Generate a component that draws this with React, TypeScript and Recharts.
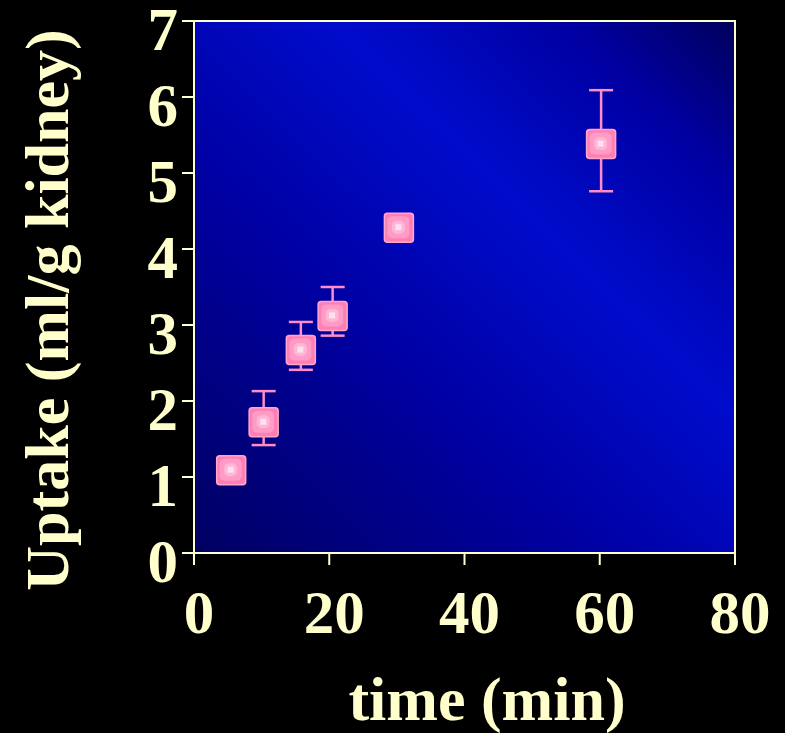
import React from 'react';
import { ScatterChart, Scatter, XAxis, YAxis, ErrorBar, ReferenceArea, Label } from 'recharts';

// uptake vs time
const times = [5.5, 10.3, 15.8, 20.5, 30.3, 60.2];
const uptake = [1.09, 1.72, 2.67, 3.12, 4.28, 5.38];
const errLow = [0, 0.3, 0.26, 0.26, 0, 0.62];
const errHigh = [0, 0.41, 0.37, 0.38, 0, 0.71];
const xTicks = [0, 20, 40, 60, 80];
const yTicks = [0, 1, 2, 3, 4, 5, 6, 7];

const data = times.map((t, i) => ({ time: t, uptake: uptake[i], err: [errLow[i], errHigh[i]] }));

const CREAM = '#ffffcc';
const FONT = '"Liberation Serif", "Times New Roman", serif';

const XTick = (props: any) => {
    const { x, y, payload } = props;
    return (
        <text x={x + 5} y={y + 66} textAnchor="middle" fill={CREAM} fontSize={61} fontWeight="bold" fontFamily={FONT}>
            {payload.value}
        </text>
    );
};

const YTick = (props: any) => {
    const { x, y, payload } = props;
    return (
        <text x={x} y={y + 29} textAnchor="end" fill={CREAM} fontSize={61} fontWeight="bold" fontFamily={FONT}>
            {payload.value}
        </text>
    );
};

const PinkSquare = (props: any) => {
    const { cx, cy } = props;
    if (cx == null || cy == null) return null;
    const s = 29;
    return (
        <g>
            <rect x={cx - s / 2} y={cy - s / 2} width={s} height={s} rx={3} fill="#ff7fb4" stroke="#ffa6cd" strokeWidth={1.5} />
            <rect x={cx - s / 2 + 3} y={cy - s / 2 + 3} width={s - 7} height={s - 7} rx={5} fill="#ff9bc7" />
            <rect x={cx - 7} y={cy - 7} width={13} height={13} rx={5} fill="#ffb6d6" />
            <rect x={cx - 3.5} y={cy - 3.5} width={6} height={6} fill="#ffe2ee" />
        </g>
    );
};

const App: React.FC = () => {
    return (
        <div style={{ position: 'fixed', left: 0, top: 0, width: 785, height: 733, background: '#000' }}>
            <ScatterChart width={785} height={733} margin={{ top: 21, right: 50, bottom: 0, left: 0 }}>
                <defs>
                    <linearGradient id="plotBg" x1="0" y1="1" x2="1" y2="0">
                        <stop offset="0%" stopColor="#000062" />
                        <stop offset="35%" stopColor="#0000a0" />
                        <stop offset="63%" stopColor="#000ccc" />
                        <stop offset="85%" stopColor="#0000a0" />
                        <stop offset="100%" stopColor="#00005c" />
                    </linearGradient>
                </defs>
                <ReferenceArea
                    x1={0}
                    x2={80}
                    y1={0}
                    y2={7}
                    fill="url(#plotBg)"
                    fillOpacity={1}
                    stroke={CREAM}
                    strokeWidth={2}
                />
                <XAxis
                    type="number"
                    dataKey="time"
                    domain={[0, 80]}
                    ticks={xTicks}
                    height={180}
                    axisLine={{ stroke: CREAM, strokeWidth: 2 }}
                    tickLine={{ stroke: CREAM, strokeWidth: 2 }}
                    tickSize={12}
                    tick={<XTick />}
                    interval={0}
                >
                    <Label
                        content={() => (
                            <text x={487} y={720} textAnchor="middle" fill={CREAM} fontSize={62} fontWeight="bold" fontFamily={FONT}>
                                time (min)
                            </text>
                        )}
                    />
                </XAxis>
                <YAxis
                    type="number"
                    dataKey="uptake"
                    domain={[0, 7]}
                    ticks={yTicks}
                    width={194}
                    axisLine={{ stroke: CREAM, strokeWidth: 2 }}
                    tickLine={{ stroke: CREAM, strokeWidth: 2 }}
                    tickSize={12}
                    tickMargin={4}
                    tick={<YTick />}
                    interval={0}
                >
                    <Label
                        content={() => (
                            <text
                                x={68}
                                y={310}
                                transform="rotate(-90 68 310)"
                                textAnchor="middle"
                                fill={CREAM}
                                fontSize={62}
                                fontWeight="bold"
                                fontFamily={FONT}
                            >
                                Uptake (ml/g kidney)
                            </text>
                        )}
                    />
                </YAxis>
                <Scatter data={data} shape={<PinkSquare />} isAnimationActive={false}>
                    <ErrorBar dataKey="err" direction="y" width={12} stroke="#ff8cc8" strokeWidth={2.5} />
                </Scatter>
            </ScatterChart>
        </div>
    );
};

export default App;
